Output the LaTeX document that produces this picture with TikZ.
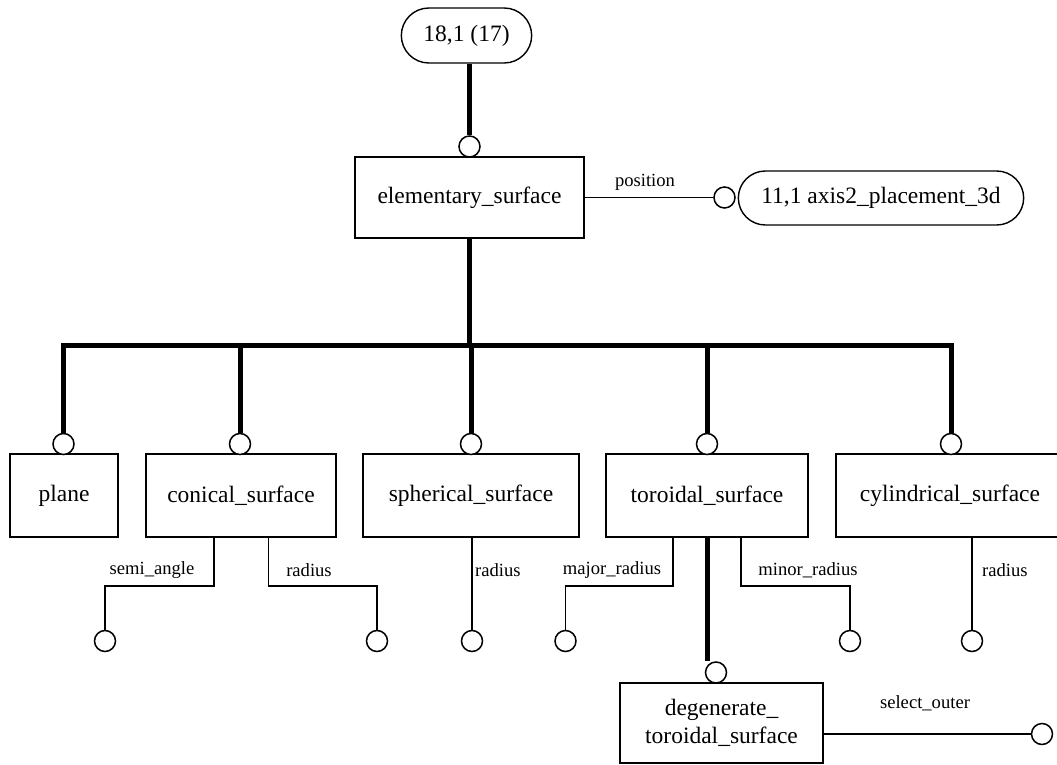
\documentclass[tikz,border=0pt]{standalone}
\usepackage{fontspec}
\setmainfont{Liberation Serif}
\usetikzlibrary{shapes.misc}

\begin{document}
\begin{tikzpicture}[x=1pt,y=-1pt,
	entbox/.style={rectangle, draw, line width=1.2pt, inner sep=2pt, align=center, font=\fontsize{23.5}{28}\selectfont},
	typeoval/.style={rounded rectangle, draw, line width=1.4pt, font=\fontsize{23.5}{28}\selectfont},
	ring/.style={circle, draw, fill=white, line width=1.5pt, inner sep=0pt, minimum size=21pt},
	thickline/.style={line width=5pt},
	thinline/.style={line width=1.2pt},
	attrlabel/.style={inner sep=0pt, font=\fontsize{18.6}{22}\selectfont}]
		\useasboundingbox (0,0) rectangle (1057,765);

		% supertype and its reference
		\node (top) [typeoval, minimum width=137pt, minimum height=55pt] at (466.5,35.5) {18,1 (17)};
		\node (elem) [entbox, minimum width=229pt, minimum height=81pt] at (469.5,197.5) {elementary\_surface};
		\node (c0) [ring] at (469.5,146.5) {};
		\node (axis) [typeoval, minimum width=292pt, minimum height=54pt] at (881,198) {11,1 axis2\_placement\_3d};
		\node (cpos) [ring] at (724.5,197.5) {};
		\node (lpos) [attrlabel] at (645,182) {position};

		\draw [thickline] (c0.north |- top.south) -- (c0.north);
		\draw [thinline] (elem.east) -- (cpos.west);

		% subtypes
		\node (plane) [entbox, minimum width=108pt, minimum height=83pt] at (64,495.5) {plane};
		\node (conical) [entbox, minimum width=190pt, minimum height=83pt] at (241,495.5) {conical\_surface};
		\node (spherical) [entbox, minimum width=216pt, minimum height=83pt] at (471,495.5) {spherical\_surface};
		\node (toroidal) [entbox, minimum width=202pt, minimum height=83pt] at (707,495.5) {toroidal\_surface};
		\node (cylindrical) [entbox, minimum width=228pt, minimum height=83pt] at (950,495.5) {cylindrical\_surface};

		\node (c1) [ring] at (63.5,444) {};
		\node (c2) [ring] at (240,444) {};
		\node (c3) [ring] at (471,444) {};
		\node (c4) [ring] at (707,444) {};
		\node (c5) [ring] at (951,444) {};

		\coordinate (bus) at (0,345);
		\draw [thickline] (elem.south) -- (elem.south |- bus);
		\draw [thickline] (c1.north) -- (c1.north |- bus) -- (c5.north |- bus) -- (c5.north);
		\foreach \n in {c2,c3,c4}
			\draw [thickline] (\n.north) -- (\n.north |- bus);

		% attributes
		\node (a1) [ring] at (105,641) {};
		\node (a2) [ring] at (377,641) {};
		\node (a3) [ring] at (472,641) {};
		\node (a4) [ring] at (565.5,641) {};
		\node (a5) [ring] at (850,641) {};
		\node (a6) [ring] at (972,641) {};

		\coordinate (sa) at (214,586);
		\coordinate (cr) at (268.5,586);
		\coordinate (mj) at (673,586);
		\coordinate (mn) at (741,586);

		\draw [thinline] (sa |- conical.south) -- (sa) -| (a1.north);
		\draw [thinline] (cr |- conical.south) -- (cr) -| (a2.north);
		\draw [thinline] (a3.north |- spherical.south) -- (a3.north);
		\draw [thinline] (mj |- toroidal.south) -- (mj) -| (a4.north);
		\draw [thinline] (mn |- toroidal.south) -- (mn) -| (a5.north);
		\draw [thinline] (a6.north |- cylindrical.south) -- (a6.north);

		\node (lsa) [attrlabel] at (152,570) {semi\_angle};
		\node (lcr) [attrlabel] at (309,570) {radius};
		\node (lsr) [attrlabel, anchor=west] at (475,570) {radius};
		\node (lmj) [attrlabel] at (612,570) {major\_radius};
		\node (lmn) [attrlabel] at (808,570) {minor\_radius};
		\node (lcy) [attrlabel, anchor=west] at (982,570) {radius};

		% subtype of toroidal_surface
		\node (degen) [entbox, minimum width=203pt, minimum height=80pt] at (721.5,723) {degenerate\_\\toroidal\_surface};
		\node (c6) [ring] at (716,672.5) {};
		\node (c7) [ring] at (1042,734) {};
		\node (lso) [attrlabel] at (925,703) {select\_outer};

		\draw [thickline] (toroidal.south) -- (toroidal.south |- c6.north);
		\draw [thinline] (degen.east |- c7) -- (c7.west);

		\end{tikzpicture}
\end{document}
